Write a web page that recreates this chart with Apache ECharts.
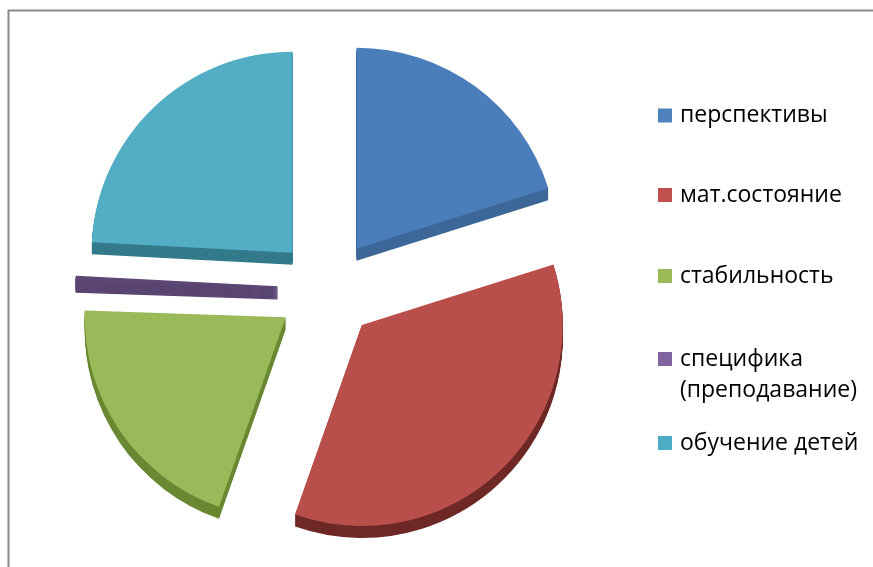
<!DOCTYPE html>
<html>
<head>
<meta charset="utf-8">
<script src="https://cdn.jsdelivr.net/npm/echarts@6/dist/echarts.min.js"></script>
<style>html,body{margin:0;padding:0;background:#fff;}#c{width:873px;height:567px;}</style>
</head>
<body>
<div id="c"></div>
<script>
const categories = ['перспективы', 'мат.состояние', 'стабильность', 'специфика (преподавание)', 'обучение детей'];
const values = [20, 35, 20, 0.3, 24];

const legendColors = ['#4f81bd', '#c0504d', '#9bbb59', '#8064a2', '#4bacc6'];
const topColors = ['#4a7eba', '#b84f4b', '#9aba5a', '#5c4775', '#52adc5'];
const sideColors = ['#3d6898', '#6e2926', '#6a8833', '#5a4572', '#337a8b'];

const CX = 327, CY = 289, R = 201, OFFSET = 50, DEPTH = 12;

function pieData(colors) {
  return categories.map((n, i) => {
    const thin = values[i] < 1;
    const st = { color: colors[i], borderColor: colors[i], borderWidth: thin ? 1.2 : 0 };
    return { name: n, value: values[i], selected: true, itemStyle: st, select: { itemStyle: st } };
  });
}

const series = [];
series.push({
  type: 'pie', name: 'top', z: 10,
  center: [CX, CY], radius: [0, R],
  startAngle: 90, clockwise: true,
  selectedMode: 'multiple', selectedOffset: OFFSET,
  label: { show: false }, labelLine: { show: false },
  emphasis: { disabled: true }, silent: true,
  data: pieData(topColors)
});
for (let d = DEPTH; d >= 1; d -= 1) {
  series.push({
    type: 'pie', name: 'side' + d, z: 2,
    center: [CX, CY + d], radius: [0, R],
    startAngle: 90, clockwise: true,
    selectedMode: 'multiple', selectedOffset: OFFSET,
    label: { show: false }, labelLine: { show: false },
    emphasis: { disabled: true }, silent: true,
    data: pieData(sideColors)
  });
}

const iconCenters = [115.5, 195, 276, 359, 443];
const legends = categories.map((n, i) => {
  const two = n.indexOf('(') >= 0;
  const lh = two ? 31 : 33;
  const h = two ? lh * 3 : lh;
  return {
    orient: 'vertical', left: 658, top: iconCenters[i] - h / 2,
    padding: 0,
    icon: 'rect', itemWidth: 14, itemHeight: 14,
    selectedMode: false,
    data: [{ name: n, itemStyle: { color: legendColors[i], borderWidth: 0 } }],
    formatter: two ? (s) => '\n' + s.replace(' (', '\n(') : undefined,
    textStyle: {
      fontFamily: 'Open Sans', fontSize: 23, color: '#000',
      lineHeight: lh, padding: [0, 0, 0, 3]
    }
  };
});

const chart = echarts.init(document.getElementById('c'), null, { renderer: 'canvas' });
chart.setOption({
  animation: false,
  backgroundColor: '#fff',
  legend: legends,
  graphic: [{
    type: 'rect', silent: true,
    shape: { x: 8.5, y: 10.5, width: 1000, height: 1000 },
    style: { fill: 'none', stroke: '#8a8a8a', lineWidth: 2 }
  }],
  series: series
});
</script>
</body>
</html>
